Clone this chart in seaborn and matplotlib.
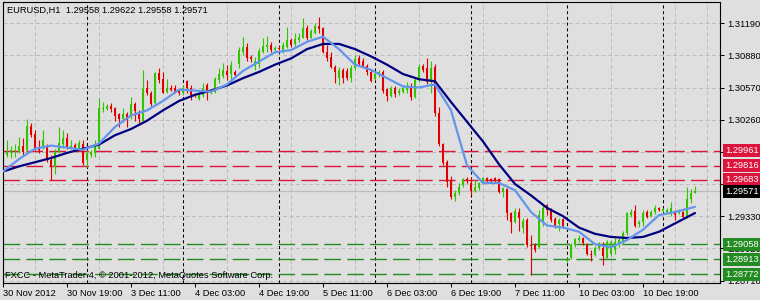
import numpy as np
import pandas as pd
import matplotlib
matplotlib.use("Agg")
import matplotlib.pyplot as plt
from matplotlib.transforms import blended_transform_factory
import seaborn as sns

# ---------------- data ----------------
header_text = "EURUSD,H1  1.29558 1.29622 1.29558 1.29571"
footer_text = "FXCC - MetaTrader 4, \u00a9 2001-2012, MetaQuotes Software Corp."

open_ = [
    1.2979, 1.2992, 1.2995, 1.2996, 1.2995, 1.3001, 1.2997, 1.3020, 1.3012, 1.2999,
    1.3001, 1.3001, 1.2987, 1.2980, 1.2995, 1.3003, 1.3008, 1.2999, 1.3002, 1.2999,
    1.3003, 1.2987, 1.2992, 1.2994, 1.2998, 1.3036, 1.3036, 1.3039, 1.3037, 1.3031,
    1.3027, 1.3031, 1.3029, 1.3041, 1.3032, 1.3025, 1.3057, 1.3052, 1.3042, 1.3071,
    1.3065, 1.3053, 1.3057, 1.3057, 1.3054, 1.3052, 1.3063, 1.3057, 1.3051, 1.3046,
    1.3050, 1.3059, 1.3052, 1.3053, 1.3064, 1.3068, 1.3073, 1.3070, 1.3072, 1.3080,
    1.3091, 1.3096, 1.3086, 1.3078, 1.3080, 1.3091, 1.3096, 1.3098, 1.3093, 1.3095,
    1.3093, 1.3096, 1.3103, 1.3099, 1.3103, 1.3105, 1.3114, 1.3105, 1.3110, 1.3116,
    1.3114, 1.3091, 1.3086, 1.3077, 1.3066, 1.3074, 1.3073, 1.3066, 1.3076, 1.3085,
    1.3083, 1.3078, 1.3072, 1.3065, 1.3069, 1.3072, 1.3056, 1.3049, 1.3057, 1.3052,
    1.3053, 1.3055, 1.3057, 1.3048, 1.3066, 1.3078, 1.3076, 1.3062, 1.3077, 1.3032,
    1.3003, 1.2985, 1.2968, 1.2951, 1.2955, 1.2963, 1.2969, 1.2965, 1.2957, 1.2960,
    1.2965, 1.2970, 1.2969, 1.2970, 1.2969, 1.2956, 1.2959, 1.2936, 1.2927, 1.2937,
    1.2922, 1.2929, 1.2905, 1.2905, 1.2903, 1.2927, 1.2944, 1.2939, 1.2930, 1.2925,
    1.2930, 1.2890, 1.2893, 1.2905, 1.2910, 1.2912, 1.2905, 1.2897, 1.2896, 1.2902,
    1.2902, 1.2893, 1.2897, 1.2900, 1.2907, 1.2908, 1.2917, 1.2934, 1.2938, 1.2925,
    1.2927, 1.2937, 1.2933, 1.2937, 1.2941, 1.2938, 1.2937, 1.2937, 1.2938, 1.2936,
    1.2937, 1.2931, 1.2950, 1.29558,
]
high = [
    1.2994, 1.3006, 1.3001, 1.3003, 1.3009, 1.3008, 1.3027, 1.3023, 1.3016, 1.3006,
    1.3016, 1.3003, 1.2992, 1.2998, 1.3019, 1.3016, 1.3013, 1.3006, 1.3004, 1.3006,
    1.3006, 1.2997, 1.2997, 1.3006, 1.3047, 1.3043, 1.3041, 1.3042, 1.3038, 1.3032,
    1.3037, 1.3033, 1.3048, 1.3043, 1.3035, 1.3074, 1.3064, 1.3054, 1.3072, 1.3076,
    1.3072, 1.3065, 1.3059, 1.3059, 1.3056, 1.3059, 1.3064, 1.3059, 1.3052, 1.3053,
    1.3061, 1.3061, 1.3056, 1.3067, 1.3076, 1.3081, 1.3079, 1.3083, 1.3074, 1.3096,
    1.3106, 1.3100, 1.3088, 1.3086, 1.3095, 1.3105, 1.3107, 1.3101, 1.3097, 1.3097,
    1.3101, 1.3115, 1.3105, 1.3110, 1.3110, 1.3124, 1.3117, 1.3113, 1.3119, 1.3125,
    1.3115, 1.3098, 1.3091, 1.3079, 1.3077, 1.3076, 1.3076, 1.3079, 1.3088, 1.3088,
    1.3085, 1.3080, 1.3074, 1.3072, 1.3074, 1.3074, 1.3057, 1.3058, 1.3058, 1.3057,
    1.3059, 1.3062, 1.3061, 1.3067, 1.3080, 1.3080, 1.3085, 1.3083, 1.3080, 1.3038,
    1.3004, 1.2987, 1.2972, 1.2958, 1.2965, 1.2970, 1.2971, 1.2971, 1.2968, 1.2966,
    1.2971, 1.2971, 1.2970, 1.2971, 1.2970, 1.2961, 1.2960, 1.2937, 1.2941, 1.2941,
    1.2931, 1.2931, 1.2915, 1.2907, 1.2939, 1.2945, 1.2945, 1.2941, 1.2932, 1.2931,
    1.2931, 1.2893, 1.2907, 1.2912, 1.2915, 1.2913, 1.2907, 1.2900, 1.2904, 1.2908,
    1.2908, 1.2910, 1.2910, 1.2912, 1.2913, 1.2919, 1.2937, 1.2940, 1.2944, 1.2929,
    1.2939, 1.2939, 1.2939, 1.2944, 1.2942, 1.2941, 1.2941, 1.2947, 1.2939, 1.2940,
    1.2938, 1.2961, 1.2959, 1.29622,
]
low = [
    1.2977, 1.2990, 1.2989, 1.2990, 1.2994, 1.2992, 1.2994, 1.3009, 1.2997, 1.2994,
    1.2998, 1.2985, 1.2968, 1.2974, 1.2994, 1.2999, 1.2998, 1.2998, 1.2998, 1.2998,
    1.2982, 1.2980, 1.2990, 1.2990, 1.2998, 1.3033, 1.3035, 1.3033, 1.3025, 1.3019,
    1.3024, 1.3019, 1.3027, 1.3025, 1.3023, 1.3024, 1.3050, 1.3039, 1.3041, 1.3061,
    1.3052, 1.3052, 1.3054, 1.3052, 1.3050, 1.3050, 1.3052, 1.3045, 1.3048, 1.3045,
    1.3048, 1.3045, 1.3051, 1.3052, 1.3061, 1.3066, 1.3064, 1.3061, 1.3067, 1.3076,
    1.3088, 1.3083, 1.3082, 1.3074, 1.3076, 1.3090, 1.3091, 1.3091, 1.3090, 1.3093,
    1.3090, 1.3095, 1.3096, 1.3097, 1.3101, 1.3105, 1.3103, 1.3105, 1.3109, 1.3110,
    1.3090, 1.3083, 1.3076, 1.3061, 1.3059, 1.3061, 1.3064, 1.3062, 1.3074, 1.3079,
    1.3076, 1.3069, 1.3062, 1.3064, 1.3067, 1.3052, 1.3044, 1.3048, 1.3048, 1.3050,
    1.3052, 1.3052, 1.3045, 1.3047, 1.3062, 1.3072, 1.3060, 1.3052, 1.3030, 1.3001,
    1.2982, 1.2961, 1.2950, 1.2948, 1.2953, 1.2961, 1.2965, 1.2953, 1.2956, 1.2958,
    1.2964, 1.2966, 1.2966, 1.2966, 1.2955, 1.2951, 1.2929, 1.2917, 1.2926, 1.2919,
    1.2917, 1.2903, 1.2876, 1.2898, 1.2902, 1.2924, 1.2934, 1.2927, 1.2922, 1.2919,
    1.2922, 1.2889, 1.2892, 1.2903, 1.2908, 1.2905, 1.2896, 1.2890, 1.2895, 1.2900,
    1.2886, 1.2893, 1.2895, 1.2897, 1.2903, 1.2907, 1.2915, 1.2932, 1.2923, 1.2923,
    1.2924, 1.2931, 1.2932, 1.2935, 1.2938, 1.2937, 1.2936, 1.2933, 1.2929, 1.2935,
    1.2931, 1.2931, 1.2946, 1.29558,
]
close = [
    1.2992, 1.2995, 1.2997, 1.2997, 1.3001, 1.2995, 1.3020, 1.3011, 1.2999, 1.2997,
    1.3006, 1.2987, 1.2980, 1.2995, 1.3004, 1.3008, 1.2999, 1.3001, 1.2999, 1.3004,
    1.2984, 1.2994, 1.2995, 1.3003, 1.3037, 1.3037, 1.3039, 1.3036, 1.3030, 1.3027,
    1.3031, 1.3026, 1.3041, 1.3034, 1.3027, 1.3056, 1.3052, 1.3041, 1.3071, 1.3064,
    1.3052, 1.3057, 1.3055, 1.3053, 1.3052, 1.3057, 1.3057, 1.3050, 1.3049, 1.3052,
    1.3057, 1.3053, 1.3054, 1.3065, 1.3070, 1.3074, 1.3069, 1.3079, 1.3069, 1.3093,
    1.3096, 1.3085, 1.3084, 1.3083, 1.3092, 1.3097, 1.3098, 1.3093, 1.3095, 1.3094,
    1.3098, 1.3103, 1.3098, 1.3104, 1.3106, 1.3114, 1.3105, 1.3111, 1.3116, 1.3113,
    1.3091, 1.3085, 1.3077, 1.3072, 1.3074, 1.3066, 1.3066, 1.3076, 1.3084, 1.3080,
    1.3078, 1.3072, 1.3063, 1.3070, 1.3072, 1.3054, 1.3049, 1.3057, 1.3051, 1.3054,
    1.3057, 1.3057, 1.3048, 1.3064, 1.3077, 1.3074, 1.3062, 1.3076, 1.3032, 1.3003,
    1.2984, 1.2966, 1.2951, 1.2955, 1.2961, 1.2969, 1.2968, 1.2957, 1.2961, 1.2965,
    1.2970, 1.2967, 1.2967, 1.2967, 1.2956, 1.2960, 1.2936, 1.2927, 1.2938, 1.2931,
    1.2928, 1.2905, 1.2904, 1.2900, 1.2934, 1.2941, 1.2939, 1.2929, 1.2924, 1.2929,
    1.2924, 1.2891, 1.2905, 1.2911, 1.2912, 1.2907, 1.2897, 1.2896, 1.2902, 1.2907,
    1.2895, 1.2908, 1.2908, 1.2908, 1.2910, 1.2917, 1.2936, 1.2937, 1.2924, 1.2927,
    1.2936, 1.2932, 1.2937, 1.2941, 1.2939, 1.2940, 1.2939, 1.2941, 1.2934, 1.2939,
    1.2932, 1.2950, 1.2955, 1.29571,
]

# moving averages, read at every 4th bar
ma_bars = [0, 4, 8, 12, 16, 20, 24, 28, 32, 36, 40, 44, 48, 52, 56, 60, 64, 68, 72, 76,
           80, 84, 88, 92, 96, 100, 104, 108, 112, 116, 120, 124, 128, 132, 136, 140,
           144, 148, 152, 156, 160, 164, 168, 172, 173]
ma_fast = [1.2976, 1.2988, 1.2998, 1.3001, 1.2999, 1.2997, 1.3003, 1.3019, 1.3030, 1.3035,
           1.3044, 1.3055, 1.3054, 1.3053, 1.3060, 1.3073, 1.3082, 1.3091, 1.3093, 1.3101,
           1.3106, 1.3094, 1.3079, 1.3074, 1.3066, 1.3058, 1.3057, 1.3060, 1.3035, 1.2982,
           1.2965, 1.2965, 1.2958, 1.2937, 1.2924, 1.2922, 1.2918, 1.2906, 1.2903, 1.2910,
           1.2920, 1.2934, 1.2937, 1.2941, 1.2942]
ma_slow = [1.2976, 1.2981, 1.2985, 1.2989, 1.2994, 1.2998, 1.3002, 1.3011, 1.3017, 1.3025,
           1.3035, 1.3044, 1.3050, 1.3054, 1.3059, 1.3066, 1.3072, 1.3079, 1.3085, 1.3094,
           1.3099, 1.3099, 1.3094, 1.3087, 1.3079, 1.3070, 1.3065, 1.3063, 1.3043, 1.3024,
           1.3005, 1.2983, 1.2964, 1.2953, 1.2941, 1.2933, 1.2922, 1.2916, 1.2913, 1.2912,
           1.2913, 1.2918, 1.2926, 1.2934, 1.2936]

time_label_bars = [0, 16, 32, 48, 64, 80, 96, 112, 128, 144, 160]
time_labels = ["30 Nov 2012", "30 Nov 19:00", "3 Dec 11:00", "4 Dec 03:00",
               "4 Dec 19:00", "5 Dec 11:00", "6 Dec 03:00", "6 Dec 19:00",
               "7 Dec 11:00", "10 Dec 03:00", "10 Dec 19:00"]
day_start_bars = [21, 45, 69, 93, 117, 141, 165]

price_ticks = [1.31190, 1.30880, 1.30570, 1.30260, 1.29950, 1.29640,
               1.29330, 1.29020, 1.28710]
hidden_ticks = [1.29950, 1.29640]   # covered by the level boxes in the original
resistance_levels = [1.29961, 1.29816, 1.29683]
support_levels = [1.29058, 1.28913, 1.28772]
bid_price = 1.29571

# ---------------- style ----------------
sns.set_theme(style="white")
plt.rcParams['font.family'] = ['Liberation Sans', 'DejaVu Sans']
FS = 6.7
BG = '#dfdfdf'
GRID = '#bdbdbd'
UP = '#33c400'
DOWN = '#e00000'
RED_LVL = '#dc143c'
GREEN_LVL = '#228b22'

fig = plt.figure(figsize=(7.6, 3.0), dpi=100, facecolor=BG)
ax = fig.add_axes([3 / 760, 17 / 300, 717 / 760, 281 / 300], facecolor=BG)
ax.set_xlim(0, 179.25)
ax.set_ylim(1.28686, 1.31394)

# grid
ax.set_xticks(np.arange(0, 180, 8), minor=True)
ax.grid(which='minor', axis='x', color=GRID, lw=0.72, ls=(0, (4, 2.5)), zorder=0.5)
ax.set_yticks(price_ticks)
ax.grid(which='major', axis='y', color=GRID, lw=0.72, ls=(0, (4, 2.5)), zorder=0.5)
ax.set_axisbelow(True)

# period separators
for b in day_start_bars:
    ax.axvline(b, color='black', lw=0.75, ls=(0, (3, 2.5)), zorder=1.0)

# horizontal levels
ax.axhline(bid_price, color='#bcbcbc', lw=0.9, zorder=1.1)
for p in resistance_levels:
    ax.axhline(p, color=RED_LVL, lw=1.0, ls=(0, (12, 4.5)), zorder=1.2)
for p in support_levels:
    ax.axhline(p, color=GREEN_LVL, lw=1.0, ls=(0, (12, 4.5)), zorder=1.2)

# candles
bars = np.arange(len(close))
o = np.array(open_); h = np.array(high); l = np.array(low); c = np.array(close)
cols = np.where(c >= o, UP, DOWN)
ax.vlines(bars, l, h, colors=cols, lw=0.8, zorder=2)
bottoms = np.minimum(o, c)
heights = np.maximum(np.abs(c - o), 0.00009)
ax.bar(bars, heights, bottom=bottoms, width=0.72, color=cols, linewidth=0, zorder=2.1)

# moving averages via seaborn
df_ma = pd.DataFrame({
    'bar': ma_bars + ma_bars,
    'price': ma_slow + ma_fast,
    'ma': ['slow'] * len(ma_bars) + ['fast'] * len(ma_bars),
})
sns.lineplot(data=df_ma, x='bar', y='price', hue='ma',
             palette={'fast': '#6495ed', 'slow': '#000080'},
             hue_order=['slow', 'fast'], estimator=None, sort=True,
             linewidth=1.6, legend=False, ax=ax, zorder=3)
ax.set_xlabel('')
ax.set_ylabel('')

# axes / ticks
for s in ax.spines.values():
    s.set_color('black')
    s.set_linewidth(0.8)
ax.yaxis.tick_right()
ax.set_yticklabels(["" if p in hidden_ticks else f"{p:.5f}" for p in price_ticks])
ax.tick_params(axis='y', which='major', direction='out', length=3, width=0.72,
               pad=2, labelsize=FS, colors='black', right=True, left=False)
ax.set_xticks(time_label_bars)
ax.set_xticklabels(time_labels)
ax.tick_params(axis='x', which='major', direction='out', length=3, width=0.72,
               pad=1.5, labelsize=FS, colors='black', bottom=True)
ax.tick_params(axis='x', which='minor', length=0)
for t in ax.get_xticklabels():
    t.set_ha('left')

# price label boxes on the right scale
trans = blended_transform_factory(ax.transAxes, ax.transData)
boxes = [(p, RED_LVL) for p in resistance_levels] + \
        [(p, GREEN_LVL) for p in support_levels] + [(bid_price, 'black')]
for p, col in boxes:
    ax.text(1.0 + 5 / 717, p, f"{p:.5f}", transform=trans, ha='left', va='center',
            color='white', fontsize=FS, zorder=10, clip_on=False,
            bbox=dict(boxstyle='square,pad=0.22', fc=col, ec='none'))

# header and footer text
fig.text(7 / 760, 1 - 10 / 300, header_text, fontsize=FS, ha='left', va='center',
         color='black')
fig.text(5 / 760, 1 - 276 / 300, footer_text, fontsize=FS, ha='left', va='center',
         color='black', zorder=5)

fig.savefig('out.png', dpi=100, facecolor=BG)
